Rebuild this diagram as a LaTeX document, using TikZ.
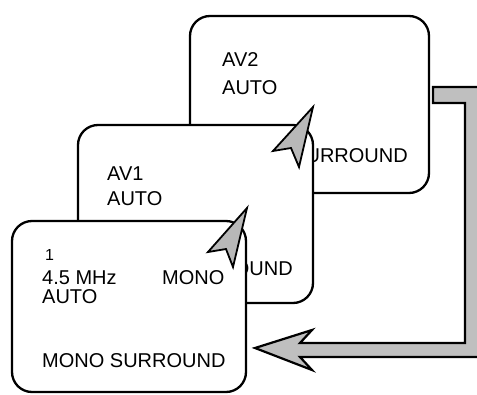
\documentclass[tikz,border=0pt]{standalone}
\usepackage{fontspec}
\setmainfont{Liberation Sans}
\begin{document}
\begin{tikzpicture}[x=1pt,y=-1pt,
  screen/.style={draw=black, line width=2.3pt, fill=white, rounded corners=20pt, inner sep=0pt},
  lbl/.style={anchor=base west, inner sep=0pt, font=\fontsize{20}{24}\selectfont},
  lble/.style={anchor=base east, inner sep=0pt, font=\fontsize{20}{24}\selectfont},
  small/.style={anchor=base west, inner sep=0pt, font=\fontsize{16}{18}\selectfont},
  ptr/.style={draw=black, line width=1.8pt, fill=black!28, line join=miter},
  bigarrow/.style={draw=black, line width=2.2pt, fill=black!25, line join=miter}
]
\useasboundingbox (0,0) rectangle (477,394);
% back screen AV2
\node[screen, minimum width=239pt, minimum height=177pt] (s2) at (309.5,104.5) {};
\node[lbl] (s2a) at (222,66) {AV2};
\node[lbl] (s2b) at (222,94) {AUTO};
\node[lble] (s2c) at (408,162) {URROUND};
% middle screen AV1
\node[screen, minimum width=235pt, minimum height=178pt] (s1) at (195.5,214) {};
\node[lbl] (s1a) at (107,180) {AV1};
\node[lbl] (s1b) at (107,205) {AUTO};
\node[lble] (s1c) at (293,275) {OUND};
% pointer AV1 -> AV2
\draw[ptr] (313,107) -- (273,151) -- (291,148) -- (299,167) -- cycle;
% front screen
\node[screen, minimum width=234pt, minimum height=171pt] (s0) at (129,306.5) {};
\node[small] (s0a) at (45,260) {1};
\node[lbl, text depth=0pt] (s0b) at (42,284) {4.5 MHz};
\node[lbl] (s0c) at (162,284) {MONO};
\node[lbl, text height=14.4pt] (s0d) at (42,303.5) {AUTO};
\node[lbl] (s0e) at (42,367) {MONO SURROUND};
% pointer front -> AV1
\draw[ptr] (247,208) -- (208,252) -- (226,249) -- (233,267) -- cycle;
% big return arrow
\begin{scope}
\clip (0,0) rectangle (477,394);
\draw[bigarrow] (433,87) -- (490,87) -- (490,357) -- (300,357) -- (312,370) -- (255,348)
  -- (312,330) -- (300,343) -- (465,343) -- (465,103) -- (433,103) -- cycle;
\end{scope}
\end{tikzpicture}
\end{document}
